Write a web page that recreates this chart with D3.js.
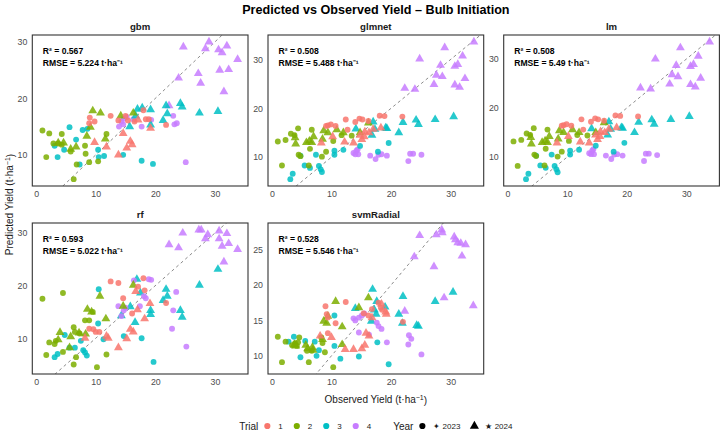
<!DOCTYPE html>
<html>
<head>
<meta charset="utf-8">
<script src="https://cdn.jsdelivr.net/npm/d3@7"></script>
<style>
  body { margin: 0; background: #fff; }
  svg { font-family: "Liberation Sans", Arial, sans-serif; }
</style>
</head>
<body>
<svg id="chart" width="721" height="433"></svg>
<script>
// facet labels and fit stats
const models = ["gbm", "glmnet", "lm", "rf", "svmRadial"];
const r2Values = ["0.567", "0.508", "0.508", "0.593", "0.528"];
const rmseValues = ["5.224", "5.488", "5.49", "5.022", "5.546"];
const trials = [1, 2, 3, 4];
const years = [2023, 2024];
const yearLabels = ["\u2726 2023", "\u2605 2024"];

// [observed, predicted, trial, year]
const gbmPts = [
  [24.7,29.1,4,2024],[29.0,30.0,4,2024],[28.4,28.8,4,2024],[32.0,29.3,4,2024],[30.6,28.6,4,2024],[31.2,28.1,4,2024],[33.8,26.9,4,2024],
  [27.2,24.4,4,2024],[23.9,23.6,4,2024],[27.6,22.7,4,2024],[30.8,25.0,4,2024],[32.3,25.1,4,2024],[31.5,21.2,4,2024],[22.3,18.7,4,2024],
  [23.0,16.9,4,2023],[23.2,15.4,4,2023],[23.6,15.6,4,2023],[25.1,8.7,4,2023],[13.9,15.0,4,2023],[14.3,15.9,4,2023],[14.7,16.4,4,2023],
  [15.2,16.7,4,2023],[16.3,16.3,4,2023],[17.7,15.0,4,2023],[19.3,16.2,4,2023],[14.6,15.4,4,2023],
  [17.0,18.1,3,2024],[17.8,18.3,3,2024],[19.2,18.0,3,2024],[21.8,18.7,3,2024],[22.0,17.3,3,2024],[24.2,19.1,3,2024],[24.5,18.5,3,2024],
  [27.4,17.4,3,2024],[30.5,17.7,3,2024],[21.3,16.1,3,2024],[19.2,15.3,3,2024],[15.7,15.0,3,2024],[16.7,16.9,3,2024],
  [5.6,14.9,3,2023],[7.8,14.4,3,2023],[8.6,14.6,3,2023],[6.7,12.7,3,2023],[3.1,11.6,3,2023],[4.7,10.9,3,2023],[3.6,9.6,3,2023],
  [10.4,10.9,3,2023],[10.5,9.6,3,2023],[11.4,9.8,3,2023],[7.3,8.3,3,2023],[14.6,10.0,3,2023],[17.7,8.95,3,2023],[19.6,8.4,3,2023],
  [1.06,14.3,2,2023],[2.2,13.8,2,2023],[4.3,13.7,2,2023],[2.9,12.0,2,2023],[3.7,12.0,2,2023],[4.3,11.8,2,2023],[1.7,9.6,2,2023],
  [6.8,8.3,2,2023],[6.3,5.7,2,2023],[8.9,8.7,2,2023],[10.4,8.85,2,2023],[8.2,11.6,2,2023],[8.3,10.2,2,2023],[11.8,13.7,2,2023],[5.8,10.6,2,2023],
  [9.5,17.8,2,2024],[10.8,17.4,2,2024],[9.1,14.9,2,2024],[8.5,13.3,2,2024],[11.6,12.8,2,2024],[14.2,16.9,2,2024],[16.3,17.4,2,2024],
  [3.7,12.1,2,2024],[4.6,12.1,2,2024],[5.8,11.0,2,2024],[6.7,11.4,2,2024],
  [9.0,16.6,1,2023],[9.8,15.9,1,2023],[8.9,15.6,1,2023],[12.5,16.9,1,2023],[13.8,16.1,1,2023],[15.0,16.9,1,2023],[15.4,16.1,1,2023],
  [16.5,15.9,1,2023],[18.0,17.9,1,2023],[18.4,16.3,1,2023],[18.9,16.3,1,2023],[21.8,15.3,1,2023],
  [9.8,12.2,1,2024],[11.8,11.4,1,2024],[13.8,10.0,1,2024],[14.6,13.8,1,2024],[15.2,11.2,1,2024],[15.8,12.4,1,2024],[16.1,11.8,1,2024],
  [19.2,14.7,1,2024],[17.1,16.2,1,2024]
];

const glmnetPts = [
  [33.9,33.6,4,2024],[29.0,32.4,4,2024],[24.8,30.1,4,2024],[28.3,28.8,4,2024],[30.7,28.6,4,2024],[31.2,29.0,4,2024],[32.0,30.7,4,2024],
  [27.6,26.8,4,2024],[28.6,26.5,4,2024],[32.4,26.1,4,2024],[27.2,24.9,4,2024],[30.7,24.8,4,2024],[31.5,24.3,4,2024],[22.3,24.1,4,2024],[24.0,23.9,4,2024],
  [13.7,10.85,4,2023],[14.2,11.3,4,2023],[14.5,10.6,4,2023],[14.4,11.6,4,2023],[14.0,10.6,4,2023],[16.5,10.3,4,2023],[17.4,9.6,4,2023],
  [17.9,10.5,4,2023],[18.4,10.6,4,2023],[19.3,10.3,4,2023],[22.9,9.2,4,2023],[23.2,10.7,4,2023],[23.7,10.7,4,2023],[25.1,10.5,4,2023],
  [14.1,15.8,3,2024],[17.0,17.2,3,2024],[17.3,15.7,3,2024],[19.1,16.0,3,2024],[19.3,15.9,3,2024],[21.3,15.0,3,2024],[22.0,17.1,3,2024],
  [24.2,17.6,3,2024],[24.6,16.7,3,2024],[27.4,17.7,3,2024],[30.5,18.3,3,2024],[16.8,14.5,3,2024],
  [14.8,12.3,3,2023],[19.6,12.9,3,2023],[17.8,11.1,3,2023],[12.0,11.5,3,2023],[10.5,11.3,3,2023],[10.5,10.5,3,2023],[7.4,10.5,3,2023],
  [4.8,10.3,3,2023],[5.5,8.3,3,2023],[7.9,8.2,3,2023],[8.2,7.5,3,2023],[8.4,6.95,3,2023],[3.5,6.6,3,2023],[3.1,5.5,3,2023],[6.4,7.8,3,2023],
  [1.0,13.2,2,2023],[2.3,13.5,2,2023],[1.7,8.3,2,2023],[3.2,14.8,2,2023],[3.8,14.5,2,2023],[4.4,15.9,2,2023],[6.7,15.6,2,2023],[4.5,10.5,2,2023],
  [4.8,10.2,2,2023],[6.2,8.3,2,2023],[6.4,11.7,2,2023],[8.4,10.1,2,2023],[9.1,11.1,2,2023],[10.3,13.3,2,2023],[11.7,14.5,2,2023],[13.4,14.4,2,2023],
  [3.9,14.0,2,2024],[4.0,12.7,2,2024],[5.8,13.0,2,2024],[6.3,13.3,2,2024],[7.0,14.2,2,2024],[8.7,15.4,2,2024],[9.4,15.0,2,2024],
  [8.5,13.7,2,2024],[10.9,15.6,2,2024],[12.0,15.0,2,2024],[14.8,15.0,2,2024],[16.2,17.0,2,2024],[6.7,13.0,2,2024],
  [9.1,16.4,1,2023],[9.4,16.5,1,2023],[9.9,16.7,1,2023],[10.7,16.4,1,2023],[12.4,17.7,1,2023],[14.0,17.2,1,2023],[14.7,17.9,1,2023],
  [15.2,17.7,1,2023],[16.2,17.4,1,2023],[18.1,18.5,1,2023],[18.9,18.4,1,2023],[21.9,18.3,1,2023],[12.7,15.6,1,2023],
  [8.3,12.9,1,2024],[10.2,14.2,1,2024],[12.2,13.1,1,2024],[13.7,12.9,1,2024],[14.8,14.5,1,2024],[15.6,15.2,1,2024],[16.3,15.0,1,2024],
  [17.0,15.7,1,2024],[15.5,14.2,1,2024],[18.3,16.0,1,2024],[15.1,13.6,1,2024]
];

const lmPts = [
  [33.9,33.5,4,2024],[29.0,32.3,4,2024],[24.8,30.0,4,2024],[28.3,28.7,4,2024],[30.7,28.5,4,2024],[31.2,28.9,4,2024],[32.0,30.6,4,2024],
  [27.6,26.8,4,2024],[28.6,26.4,4,2024],[32.4,26.1,4,2024],[27.2,24.9,4,2024],[30.7,24.8,4,2024],[31.5,24.3,4,2024],[22.3,24.1,4,2024],[24.0,23.9,4,2024],
  [13.7,10.8,4,2023],[14.2,11.3,4,2023],[14.5,10.6,4,2023],[14.4,11.6,4,2023],[14.0,10.6,4,2023],[16.5,10.3,4,2023],[17.4,9.6,4,2023],
  [17.9,10.5,4,2023],[18.4,10.6,4,2023],[19.3,10.3,4,2023],[22.9,9.2,4,2023],[23.2,10.7,4,2023],[23.7,10.7,4,2023],[25.1,10.4,4,2023],
  [14.1,15.8,3,2024],[17.0,17.2,3,2024],[17.3,15.7,3,2024],[19.1,16.0,3,2024],[19.3,15.9,3,2024],[21.3,15.0,3,2024],[22.0,17.1,3,2024],
  [24.2,17.6,3,2024],[24.6,16.7,3,2024],[27.4,17.7,3,2024],[30.5,18.3,3,2024],[16.8,14.5,3,2024],
  [14.8,12.3,3,2023],[19.6,12.9,3,2023],[17.8,11.1,3,2023],[12.0,11.5,3,2023],[10.5,11.3,3,2023],[10.5,10.5,3,2023],[7.4,10.5,3,2023],
  [4.8,10.3,3,2023],[5.5,8.3,3,2023],[7.9,8.2,3,2023],[8.2,7.5,3,2023],[8.4,6.9,3,2023],[3.5,6.6,3,2023],[3.1,5.5,3,2023],[6.4,7.8,3,2023],
  [1.0,13.2,2,2023],[2.3,13.5,2,2023],[1.7,8.2,2,2023],[3.2,14.8,2,2023],[3.8,14.5,2,2023],[4.4,15.9,2,2023],[6.7,15.6,2,2023],[4.5,10.5,2,2023],
  [4.8,10.2,2,2023],[6.2,8.3,2,2023],[6.4,11.7,2,2023],[8.4,10.1,2,2023],[9.1,11.1,2,2023],[10.3,13.3,2,2023],[11.7,14.5,2,2023],[13.4,14.4,2,2023],
  [3.9,14.0,2,2024],[4.0,12.7,2,2024],[5.8,13.0,2,2024],[6.3,13.3,2,2024],[7.0,14.2,2,2024],[8.7,15.4,2,2024],[9.4,15.0,2,2024],
  [8.5,13.7,2,2024],[10.9,15.6,2,2024],[12.0,15.0,2,2024],[14.8,15.0,2,2024],[16.2,17.0,2,2024],[6.7,13.0,2,2024],
  [9.1,16.4,1,2023],[9.4,16.5,1,2023],[9.9,16.7,1,2023],[10.7,16.4,1,2023],[12.4,17.7,1,2023],[14.0,17.2,1,2023],[14.7,17.9,1,2023],
  [15.2,17.7,1,2023],[16.2,17.4,1,2023],[18.1,18.5,1,2023],[18.9,18.4,1,2023],[21.9,18.3,1,2023],[12.7,15.6,1,2023],
  [8.3,12.9,1,2024],[10.2,14.2,1,2024],[12.2,13.1,1,2024],[13.7,12.9,1,2024],[14.8,14.5,1,2024],[15.6,15.2,1,2024],[16.3,15.0,1,2024],
  [17.0,15.7,1,2024],[15.5,14.2,1,2024],[18.3,16.0,1,2024],[15.1,13.6,1,2024]
];

const rfPts = [
  [24.6,30.0,4,2024],[27.3,30.6,4,2024],[27.7,30.6,4,2024],[28.8,29.7,4,2024],[28.4,28.9,4,2024],[30.7,30.4,4,2024],[32.0,29.9,4,2024],
  [30.7,28.9,4,2024],[32.3,28.0,4,2024],[31.2,27.5,4,2024],[33.8,26.9,4,2024],[22.3,27.8,4,2024],[23.9,27.2,4,2024],[31.5,24.5,4,2024],
  [30.5,23.1,3,2024],[27.4,20.1,3,2024],[21.8,19.3,3,2024],[22.0,18.0,3,2024],[21.3,17.2,3,2024],[16.9,21.2,3,2024],[17.5,18.6,3,2024],
  [19.2,15.3,3,2024],[19.2,14.5,3,2024],[24.2,15.3,3,2024],[24.5,14.0,3,2024],[16.6,13.0,3,2024],[15.8,16.0,3,2024],[14.3,14.3,3,2024],
  [16.4,21.0,4,2023],[18.9,21.2,4,2023],[19.3,21.1,4,2023],[18.1,18.0,4,2023],[18.4,17.6,4,2023],[13.8,16.1,4,2023],[14.3,14.2,4,2023],
  [14.7,15.3,4,2023],[15.0,15.8,4,2023],[17.4,16.1,4,2023],[23.5,18.8,4,2023],[23.0,15.3,4,2023],[22.8,11.8,4,2023],[25.2,8.4,4,2023],
  [10.5,19.3,3,2023],[10.4,12.8,3,2023],[11.3,9.8,3,2023],[14.7,10.4,3,2023],[17.7,10.0,3,2023],[19.7,5.5,3,2023],[4.8,10.6,3,2023],
  [7.5,9.5,3,2023],[6.5,8.2,3,2023],[5.6,8.2,3,2023],[7.9,7.7,3,2023],[8.2,7.3,3,2023],[8.5,6.7,3,2023],[3.6,7.0,3,2023],[3.1,6.4,3,2023],
  [1.06,17.5,2,2023],[4.5,18.6,2,2023],[8.2,13.4,2,2023],[8.9,13.4,2,2023],[9.5,15.0,2,2023],[11.8,6.9,2,2023],[10.2,4.5,2,2023],
  [6.3,12.1,2,2023],[6.5,11.2,2,2023],[7.3,10.9,2,2023],[2.2,9.2,2,2023],[3.1,8.9,2,2023],[4.5,7.4,2,2023],[1.7,6.8,2,2023],
  [6.7,6.4,2,2023],[6.3,5.0,2,2023],[3.3,9.5,2,2023],
  [10.7,18.0,2,2024],[8.6,15.5,2,2024],[9.3,15.0,2,2024],[11.7,13.7,2,2024],[8.3,10.8,2,2024],[4.0,11.1,2,2024],[3.7,9.7,2,2024],
  [5.8,10.3,2,2024],[5.6,8.2,2,2024],[7.2,11.0,2,2024],[16.3,20.1,2,2024],[14.6,16.1,2,2024],
  [12.5,20.8,1,2023],[13.8,20.5,1,2023],[18.0,21.4,1,2023],[18.2,19.1,1,2023],[14.6,17.6,1,2023],[17.1,19.8,1,2023],[16.1,14.7,1,2023],
  [8.9,11.8,1,2023],[9.6,11.7,1,2023],[10.0,11.2,1,2023],[10.6,11.2,1,2023],[21.8,16.7,1,2023],
  [16.7,18.9,1,2024],[19.1,16.6,1,2024],[18.2,13.7,1,2024],[15.8,11.7,1,2024],[16.3,11.2,1,2024],[15.2,9.9,1,2024],[13.8,8.2,1,2024],
  [11.8,10.4,1,2024],[12.1,10.0,1,2024],[8.2,10.0,1,2024],[17.0,15.4,1,2024]
];

const svmPts = [
  [24.8,27.0,4,2024],[28.5,27.8,4,2024],[28.6,27.4,4,2024],[27.6,27.1,4,2024],[30.6,26.8,4,2024],[30.8,26.4,4,2024],[31.2,26.0,4,2024],
  [31.7,25.9,4,2024],[32.5,25.7,4,2024],[23.9,24.0,4,2024],[31.9,24.1,4,2024],[27.2,22.6,4,2024],[28.9,18.2,4,2024],[33.8,17.1,4,2024],[22.3,16.3,4,2024],
  [16.9,19.4,3,2024],[22.0,18.4,3,2024],[30.4,19.0,3,2024],[27.4,17.7,3,2024],[17.6,17.7,3,2024],[14.0,16.7,3,2024],[19.0,16.9,3,2024],
  [17.2,16.5,3,2024],[21.3,15.9,3,2024],[21.9,14.6,3,2024],[24.3,14.3,3,2024],[24.6,14.2,3,2024],[16.7,14.9,3,2024],[17.5,15.9,3,2024],
  [13.7,15.3,4,2023],[14.0,15.0,4,2023],[14.6,15.4,4,2023],[15.1,15.7,4,2023],[15.5,16.0,4,2023],[17.6,14.7,4,2023],[17.9,14.2,4,2023],
  [18.4,13.8,4,2023],[14.6,13.3,4,2023],[16.3,13.0,4,2023],[19.3,11.9,4,2023],[23.0,12.9,4,2023],[23.4,12.4,4,2023],[22.9,11.6,4,2023],[25.1,10.2,4,2023],
  [10.5,15.7,3,2023],[7.2,12.0,3,2023],[5.6,12.1,3,2023],[7.9,10.8,3,2023],[7.5,10.0,3,2023],[4.8,9.8,3,2023],[2.8,12.0,3,2023],
  [3.7,12.7,3,2023],[10.5,11.4,3,2023],[11.5,9.6,3,2023],[14.6,9.9,3,2023],[17.7,11.9,3,2023],[19.6,8.8,3,2023],
  [1.0,12.7,2,2023],[2.3,12.0,2,2023],[1.7,9.1,2,2023],[3.4,11.5,2,2023],[3.9,11.8,2,2023],[4.2,11.4,2,2023],[4.6,12.6,2,2023],
  [4.4,11.9,2,2023],[6.2,9.1,2,2023],[5.9,10.7,2,2023],[6.7,10.7,2,2023],[8.9,10.5,2,2023],[10.3,8.4,2,2023],[8.5,11.8,2,2023],[8.3,12.6,2,2023],
  [3.8,11.6,2,2024],[4.0,11.4,2,2024],[5.7,11.5,2,2024],[6.0,11.0,2,2024],[6.8,11.2,2,2024],[8.5,12.3,2,2024],[8.7,14.9,2,2024],
  [9.4,15.6,2,2024],[9.2,14.6,2,2024],[10.7,17.7,2,2024],[11.8,14.1,2,2024],[11.8,11.6,2,2024],[14.6,16.8,2,2024],[16.2,18.2,2,2024],[6.9,10.8,2,2024],
  [9.0,17.0,1,2023],[9.2,15.9,1,2023],[9.4,15.4,1,2023],[10.7,14.6,1,2023],[12.4,17.6,1,2023],[9.4,13.2,1,2023],[15.4,16.0,1,2023],
  [16.2,15.7,1,2023],[17.9,17.5,1,2023],[18.3,16.8,1,2023],[18.5,16.5,1,2023],[22.0,14.8,1,2023],[16.8,16.6,1,2023],
  [8.1,12.8,1,2024],[10.0,12.6,1,2024],[12.3,10.9,1,2024],[13.7,10.9,1,2024],[15.1,11.0,1,2024],[15.6,11.5,1,2024],[15.8,13.2,1,2024],
  [16.3,12.8,1,2024],[16.8,15.4,1,2024],[19.1,16.2,1,2024],[19.2,15.9,1,2024],[18.4,17.3,1,2024]
];

const pointSets = [gbmPts, glmnetPts, lmPts, rfPts, svmPts];

const trialColors = ["#F8766D", "#7CAE00", "#00BFC4", "#C77CFF"];
const color = d3.scaleOrdinal().domain(trials).range(trialColors);
const shape = d3.scaleOrdinal().domain(years).range([d3.symbolCircle, d3.symbolTriangle]);
const symSize = y => y === 2023 ? 27 : 34;

const svg = d3.select("#chart");
const W = 721;
const panelW = 215.7, panelH = 151;
const left0 = 32.3, top0 = 35, gapX = 20, gapY = 37;
const ncol = 3;
const axisGrey = "#4D4D4D";

// ggplot-like 5% expansion
function expand(ext) {
  const pad = (ext[1] - ext[0]) * 0.05;
  return [ext[0] - pad, ext[1] + pad];
}

const xDomain = expand(d3.extent(pointSets.flat(), d => d[0]));

models.forEach((m, i) => {
  const col = i % ncol, row = Math.floor(i / ncol);
  const px = left0 + col * (panelW + gapX);
  const py = top0 + row * (panelH + gapY);
  const pts = pointSets[i];

  const x = d3.scaleLinear().domain(xDomain).range([0, panelW]);
  const y = d3.scaleLinear().domain(expand(d3.extent(pts, d => d[1]))).range([panelH, 0]);

  const g = svg.append("g").attr("transform", `translate(${px},${py})`);

  g.append("clipPath").attr("id", "clip" + i)
    .append("rect").attr("width", panelW).attr("height", panelH);

  // 1:1 line
  const lo = Math.min(x.domain()[0], y.domain()[0]);
  const hi = Math.max(x.domain()[1], y.domain()[1]);
  g.append("line")
    .attr("clip-path", `url(#clip${i})`)
    .attr("x1", x(lo)).attr("y1", y(lo))
    .attr("x2", x(hi)).attr("y2", y(hi))
    .attr("stroke", "#7f7f7f")
    .attr("stroke-width", 0.9)
    .attr("stroke-dasharray", "3,3");

  g.selectAll("path.pt")
    .data(pts)
    .join("path")
    .attr("class", "pt")
    .attr("transform", d => `translate(${x(d[0])},${y(d[1])})`)
    .attr("d", d => d3.symbol().type(shape(d[3])).size(symSize(d[3]))())
    .attr("fill", d => color(d[2]))
    .attr("fill-opacity", 0.85);

  g.append("rect")
    .attr("width", panelW).attr("height", panelH)
    .attr("fill", "none")
    .attr("stroke", "#333")
    .attr("stroke-width", 1.1);

  const xAxis = g.append("g")
    .attr("transform", `translate(0,${panelH})`)
    .call(d3.axisBottom(x).ticks(3.5).tickSize(0).tickPadding(5));
  const yAxis = g.append("g")
    .call(d3.axisLeft(y).ticks(3.5).tickSize(0).tickPadding(5));
  [xAxis, yAxis].forEach(a => {
    a.select(".domain").remove();
    a.selectAll("text")
      .attr("fill", axisGrey)
      .style("font-size", "8.8px")
      .style("font-family", "'Liberation Sans', Arial, sans-serif");
  });

  // strip label
  g.append("text")
    .attr("x", panelW / 2).attr("y", -5.5)
    .attr("text-anchor", "middle")
    .style("font-size", "9.6px")
    .style("font-weight", "bold")
    .attr("fill", "#1a1a1a")
    .text(m);

  // fit annotations
  g.append("text")
    .attr("x", 10.5).attr("y", 18.8)
    .style("font-size", "8.6px").style("font-weight", "bold")
    .text("R\u00B2 = " + r2Values[i]);
  g.append("text")
    .attr("x", 10.5).attr("y", 31.4)
    .style("font-size", "8.6px").style("font-weight", "bold")
    .text("RMSE = " + rmseValues[i] + " t\u00B7ha\u207B\u00B9");
});

const plotRight = left0 + ncol * panelW + (ncol - 1) * gapX;
const plotCx = (left0 + plotRight) / 2;

// title
svg.append("text")
  .attr("x", plotCx).attr("y", 14)
  .attr("text-anchor", "middle")
  .style("font-size", "12.6px").style("font-weight", "bold")
  .text("Predicted vs Observed Yield \u2013 Bulb Initiation");

// axis titles with superscript
function unitTitle(sel, label) {
  sel.append("tspan").text(label + " (t\u00B7ha");
  sel.append("tspan").attr("dy", "-0.4em").style("font-size", "7px").text("\u22121");
  sel.append("tspan").attr("dy", "0.4em").text(")");
}
const bottom = top0 + 2 * panelH + gapY;
svg.append("text")
  .attr("x", plotCx).attr("y", bottom + 29)
  .attr("text-anchor", "middle")
  .style("font-size", "10px").attr("fill", "#1a1a1a")
  .call(unitTitle, "Observed Yield");
svg.append("text")
  .attr("transform", `translate(12.5,${(top0 + bottom) / 2}) rotate(-90)`)
  .attr("text-anchor", "middle")
  .style("font-size", "10px").attr("fill", "#1a1a1a")
  .call(unitTitle, "Predicted Yield");

// legend
const legY = 426;
const leg = svg.append("g");
let cx = 0;
function legTitle(t) {
  const el = leg.append("text").attr("x", cx).attr("y", legY + 3.6)
    .style("font-size", "10px").attr("fill", "#1a1a1a").text(t);
  cx += el.node().getComputedTextLength() + 9;
}
function legItem(sym, fill, size, label) {
  leg.append("path")
    .attr("transform", `translate(${cx},${legY})`)
    .attr("d", d3.symbol().type(sym).size(size)())
    .attr("fill", fill);
  cx += 11;
  const el = leg.append("text").attr("x", cx).attr("y", legY + 3)
    .style("font-size", "8px").attr("fill", "#1a1a1a").text(label);
  cx += el.node().getComputedTextLength() + 14;
}
legTitle("Trial");
trials.forEach(t => legItem(d3.symbolCircle, color(t), 30, String(t)));
cx += 8;
legTitle("Year");
years.forEach((yv, k) => legItem(shape(yv), "#000", yv === 2023 ? 30 : 36, yearLabels[k]));
const legW = cx - 14;
leg.attr("transform", `translate(${plotCx - legW / 2},0)`);
</script>
</body>
</html>
